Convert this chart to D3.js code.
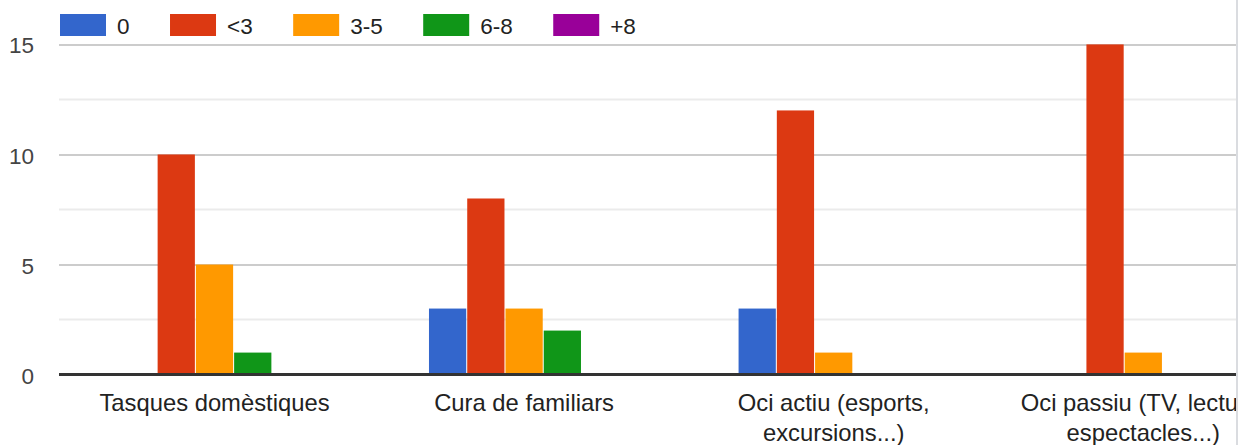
<!DOCTYPE html>
<html>
<head>
<meta charset="utf-8">
<script src="https://cdn.jsdelivr.net/npm/d3@7"></script>
<style>
  html, body { margin: 0; padding: 0; background: #fff; }
  svg { display: block; font-family: "Liberation Sans", Arial, sans-serif; }
</style>
</head>
<body>
<svg id="chart" width="1252" height="445"></svg>
<script>
// ---- data ----
const categories = [
  "Tasques domèstiques",
  "Cura de familiars",
  "Oci actiu (esports, excursions...)",
  "Oci passiu (TV, lectura, espectacles...)"
];
const seriesNames = ["0", "<3", "3-5", "6-8", "+8"];
const seriesColors = ["#3366cc", "#dc3912", "#ff9900", "#109618", "#990099"];
const values0   = [0, 3, 3, 0];
const valuesLt3 = [10, 8, 12, 15];
const values3_5 = [5, 3, 1, 1];
const values6_8 = [1, 2, 0, 0];
const valuesGt8 = [0, 0, 0, 0];
const seriesValues = [values0, valuesLt3, values3_5, values6_8, valuesGt8];
const yTicks = [0, 5, 10, 15];
const yMinorTicks = [2.5, 7.5, 12.5];

// ---- layout ----
const svg = d3.select("#chart");
const plotLeft = 59.7, plotRight = 1298.1, clipRight = 1236;
const gridLeft = 59;
const yBottom = 374.6, yTop = 44.4;
const fontSize = 22.5;
const catFontSize = 23.8;

const pInner = 1 - 191.25 / ((plotRight - plotLeft) / 4);
const x0 = d3.scaleBand().domain(categories).range([plotLeft, plotRight])
  .paddingInner(pInner).paddingOuter(pInner / 2);
const x1 = d3.scaleBand().domain(seriesNames).range([0, x0.bandwidth()]);
const y = d3.scaleLinear().domain([0, 15]).range([yBottom, yTop]);

const defs = svg.append("defs");
defs.append("clipPath").attr("id", "clip")
  .append("rect").attr("x", 0).attr("y", 0).attr("width", clipRight).attr("height", 445);

const g = svg.append("g").attr("clip-path", "url(#clip)");

// minor gridlines
g.append("g").selectAll("line").data(yMinorTicks).join("line")
  .attr("x1", gridLeft).attr("x2", plotRight + 10)
  .attr("y1", d => y(d)).attr("y2", d => y(d))
  .attr("stroke", "#ebebeb").attr("stroke-width", 2);

// major gridlines + labels via axis
const yAxis = d3.axisLeft(y).tickValues(yTicks).tickSize(-(plotRight + 10 - gridLeft))
  .tickPadding(25).tickFormat(d3.format("d"));
const ya = g.append("g").attr("transform", `translate(${gridLeft},0)`).call(yAxis);
ya.select(".domain").remove();
ya.selectAll(".tick line").attr("stroke", "#cccccc").attr("stroke-width", 2);
ya.selectAll(".tick text").attr("fill", "#444").attr("font-size", fontSize)
  .attr("font-family", "Liberation Sans, Arial, sans-serif").attr("dy", "0.38em");

// bars
const groups = g.append("g").selectAll("g").data(categories).join("g")
  .attr("transform", d => `translate(${x0(d)},0)`);
groups.selectAll("rect")
  .data((c, i) => seriesNames.map((s, k) => ({ s, k, v: seriesValues[k][i] })))
  .join("rect")
  .filter(d => d.v > 0)
  .attr("x", d => x1(d.s) + 0.5)
  .attr("width", x1.bandwidth() - 1)
  .attr("y", d => y(d.v))
  .attr("height", d => y(0) - y(d.v))
  .attr("fill", d => seriesColors[d.k]);

// baseline
g.append("line").attr("x1", gridLeft).attr("x2", plotRight + 10)
  .attr("y1", y(0)).attr("y2", y(0))
  .attr("stroke", "#333").attr("stroke-width", 3);

// category labels (wrapped)
const maxLabelWidth = 300;
const labels = g.append("g").attr("fill", "#222").attr("font-size", catFontSize)
  .attr("text-anchor", "middle");
categories.forEach(cat => {
  const cx = x0(cat) + x0.bandwidth() / 2;
  const t = labels.append("text").attr("x", cx).attr("y", 410.5);
  const words = cat.split(" ");
  let line = [];
  let tspan = t.append("tspan").attr("x", cx).attr("dy", 0);
  words.forEach(w => {
    line.push(w);
    tspan.text(line.join(" "));
    if (tspan.node().getComputedTextLength() > maxLabelWidth && line.length > 1) {
      line.pop();
      tspan.text(line.join(" "));
      line = [w];
      tspan = t.append("tspan").attr("x", cx).attr("dy", 30).text(w);
    }
  });
});

// container edge
svg.append("line").attr("x1", clipRight + 1).attr("x2", clipRight + 1)
  .attr("y1", 0).attr("y2", 445).attr("stroke", "#dadce0").attr("stroke-width", 2);

// legend
const legend = svg.append("g").attr("font-size", fontSize).attr("fill", "#222");
let lx = 60;
seriesNames.forEach((s, k) => {
  legend.append("rect").attr("x", lx).attr("y", 14).attr("width", 46).attr("height", 22)
    .attr("fill", seriesColors[k]);
  const tx = legend.append("text").attr("x", lx + 57).attr("y", 33.5).text(s);
  lx = lx + 57 + tx.node().getComputedTextLength() + 40.5;
});
</script>
</body>
</html>
